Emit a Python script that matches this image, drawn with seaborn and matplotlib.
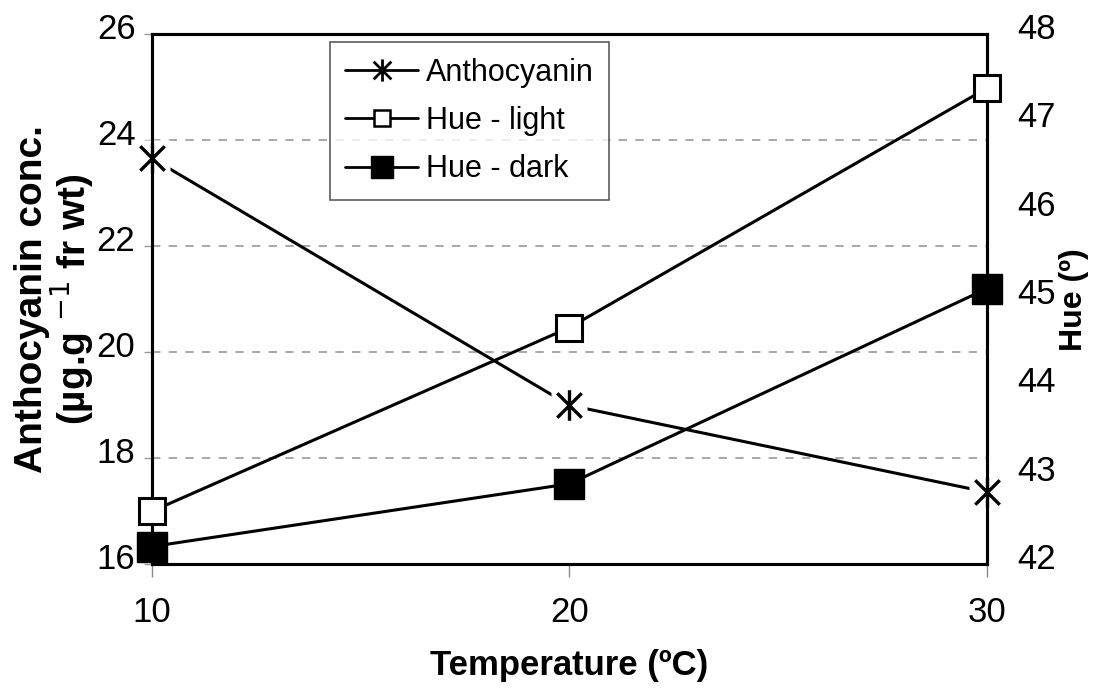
import numpy as np
import pandas as pd
import matplotlib
matplotlib.use("Agg")
import matplotlib.pyplot as plt
from matplotlib.path import Path
from matplotlib.lines import Line2D
from matplotlib.transforms import ScaledTranslation
import seaborn as sns

# Measured values
temperature = [10, 20, 30]
anthocyanin = [23.66, 19.0, 17.36]
hue_light = [42.60, 44.68, 47.39]
hue_dark = [42.20, 42.91, 45.12]

left_ticks = [16, 18, 20, 22, 24, 26]
right_ticks = [42, 43, 44, 45, 46, 47, 48]
x_ticks = [10, 20, 30]

sns.set_theme(style="white")
plt.rcParams["font.family"] = ["Liberation Sans", "DejaVu Sans"]
plt.rcParams.update({
    "text.color": "black",
    "axes.labelcolor": "black",
    "xtick.color": "black",
    "ytick.color": "black",
})

df = pd.DataFrame({
    "Temperature": temperature,
    "Anthocyanin": anthocyanin,
    "Hue - light": hue_light,
    "Hue - dark": hue_dark,
})

# Excel-style star: an X crossed by a vertical bar
star = Path(
    [(-1, -1), (1, 1), (-1, 1), (1, -1), (0, -1.25), (0, 1.25)],
    [Path.MOVETO, Path.LINETO, Path.MOVETO, Path.LINETO, Path.MOVETO, Path.LINETO],
)

fig = plt.figure(figsize=(10.94, 6.88), dpi=100)
ax = fig.add_axes([0.139, 0.18, 0.763, 0.77])
ax2 = ax.twinx()

lw = 2.2
# Anthocyanin on left axis
sns.lineplot(data=df, x="Temperature", y="Anthocyanin", ax=ax, color="black",
             linewidth=lw, zorder=3, clip_on=False, legend=False)
ax.plot(df["Temperature"], df["Anthocyanin"], linestyle="none", marker="s",
        markersize=26, markerfacecolor="white", markeredgecolor="none",
        zorder=4, clip_on=False)
ax.plot(df["Temperature"], df["Anthocyanin"], linestyle="none", marker=star,
        markersize=22, markeredgewidth=2.4, color="black", zorder=5, clip_on=False)

# Hue series on right axis
sns.lineplot(data=df, x="Temperature", y="Hue - light", ax=ax2, color="black",
             linewidth=lw, marker="s", markersize=19, markerfacecolor="white",
             markeredgecolor="black", markeredgewidth=2.2, zorder=5,
             clip_on=False, legend=False)
sns.lineplot(data=df, x="Temperature", y="Hue - dark", ax=ax2, color="black",
             linewidth=lw, marker="s", markersize=22, markerfacecolor="black",
             markeredgecolor="black", markeredgewidth=1, zorder=5,
             clip_on=False, legend=False)

ax.set_xlim(10, 30)
ax.set_ylim(16, 26)
ax2.set_ylim(42, 48)
ax.set_xticks(x_ticks)
ax.set_yticks(left_ticks)
ax2.set_yticks(right_ticks)

# Dashed grey gridlines at the inner left-axis ticks
for v in left_ticks[1:-1]:
    ax.axhline(v, color="#999999", linestyle=(0, (5, 5)), linewidth=1.2, zorder=1)

for a in (ax, ax2):
    for s in a.spines.values():
        s.set_color("black")
        s.set_linewidth(2.2)
ax2.set_zorder(ax.get_zorder() + 1)
ax2.patch.set_visible(False)

tick_font = dict(fontsize=25, color="black")
ax.set_xticklabels([str(t) for t in x_ticks], **tick_font)
ax.set_yticklabels([str(t) for t in left_ticks], **tick_font)
ax2.set_yticklabels([str(t) for t in right_ticks], **tick_font)
ax.tick_params(axis="x", direction="out", length=9, width=1, color="#888888",
               pad=14, bottom=True)
ax.tick_params(axis="y", direction="out", length=6, width=1, color="#999999",
               pad=6, left=True)
ax2.tick_params(axis="y", direction="out", length=0, pad=22)

# Excel draws the value labels slightly above their ticks
up = ScaledTranslation(0, 6 / 72, fig.dpi_scale_trans)
for lbl in ax.get_yticklabels() + ax2.get_yticklabels():
    lbl.set_transform(lbl.get_transform() + up)

ax.set_xlabel("Temperature (ºC)", fontsize=25, fontweight="bold", labelpad=14)
ax.set_ylabel("Anthocyanin conc.\n(µg.g $^{-1}$ fr wt)", fontsize=28,
              fontweight="bold", linespacing=0.95)
ax.yaxis.set_label_coords(-0.068, 0.5)
ax2.set_ylabel("Hue (º)", fontsize=23, fontweight="bold", labelpad=2)

# Legend
handles = [
    Line2D([], [], color="black", linewidth=2, marker=star, markersize=16,
           markeredgewidth=2),
    Line2D([], [], color="black", linewidth=2, marker="s", markersize=12,
           markerfacecolor="white", markeredgewidth=1.8),
    Line2D([], [], color="black", linewidth=2, marker="s", markersize=16,
           markerfacecolor="black"),
]
leg = ax2.legend(handles, ["Anthocyanin", "Hue - light", "Hue - dark"],
                 loc="upper left", bbox_to_anchor=(0.213, 0.985), fontsize=22,
                 frameon=True, fancybox=False, edgecolor="#333333",
                 handlelength=2.4, handletextpad=0.25, labelspacing=0.6,
                 borderpad=0.5, borderaxespad=0)
leg.get_frame().set_linewidth(1.2)
leg.set_zorder(10)

fig.savefig("out.png", dpi=100, facecolor="white")
